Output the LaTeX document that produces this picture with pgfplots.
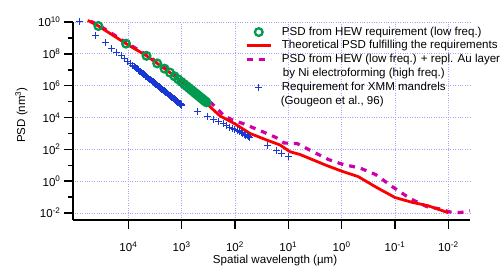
\documentclass[border=0pt]{standalone}
\usepackage{fontspec}
\setmainfont{Liberation Sans}
\usepackage{pgfplots}
\pgfplotsset{compat=1.18}
\definecolor{gridblue}{RGB}{165,165,255}
\definecolor{psdgreen}{RGB}{0,155,80}
\definecolor{psdred}{RGB}{250,0,0}
\definecolor{psdmag}{RGB}{205,0,170}
\definecolor{psdblue}{RGB}{25,55,210}
\begin{document}
\begin{tikzpicture}[font=\fontsize{11.6}{13.8}\selectfont]
\useasboundingbox (0,0) rectangle (503bp,267bp);
\begin{axis}[
  at={(73bp,47bp)}, anchor=south west,
  width=397bp, height=198bp, scale only axis,
  xmode=log, ymode=log, x dir=reverse,
  xmin=3.92e-3, xmax=1.09e5, ymin=3.66e-3, ymax=1e10,
  axis x line*=bottom, axis y line*=left,
  axis line style={line width=1.5bp, black},
  clip=false,
  tick align=outside,
  major tick length=9bp, minor tick length=4.5bp,
  every tick/.style={black, line width=1.5bp},
  xtick={1e-2,1e-1,1,1e1,1e2,1e3,1e4},
  xticklabels={10\textsuperscript{-2},10\textsuperscript{-1},10\textsuperscript{0},10\textsuperscript{1},10\textsuperscript{2},10\textsuperscript{3},10\textsuperscript{4}},
  xticklabel style={yshift=-9bp},
  ytick={1e-2,1,1e2,1e4,1e6,1e8,1e10},
  yticklabels={10\textsuperscript{-2},10\textsuperscript{0},10\textsuperscript{2},10\textsuperscript{4},10\textsuperscript{6},10\textsuperscript{8},10\textsuperscript{10}},
  minor ytick={1e-1,1e1,1e3,1e5,1e7,1e9},
  xminorticks=false,
  grid=major,
  major grid style={gridblue, dotted, line width=0.8bp},
  xlabel={Spatial wavelength (µm)},
  ylabel={PSD (nm\textsuperscript{3})},
  xlabel style={at={(axis description cs:0.509,-0.207)}, anchor=center},
  ylabel style={at={(axis description cs:-0.13,0.53)}, anchor=center},
  legend style={at={(axis description cs:0.4332,0.985)}, anchor=north west, draw=none, fill=none,
    inner sep=0pt, row sep=0pt, column sep=8bp,
    nodes={inner xsep=1.5bp, inner ysep=1.1bp, text height=8.8bp, text depth=2.8bp}},
  legend cell align=left,
  legend image code/.code={\draw[mark repeat=2,mark phase=2,#1] plot coordinates {(0bp,0bp) (12bp,0bp) (24bp,0bp)};},
]
% XMM requirement (blue plus)
\addplot[forget plot, only marks, mark=+, mark size=3.5bp, psdblue, line width=1bp] coordinates {
(82000,1e10) (41000,1.508e9) (27333,4.984e8) (20500,2.272e8) (16400,1.235e8) (13667,7.51e7)
(11714,4.93e7) (10250,3.42e7) (9111,2.48e7) (8200,1.862e7) (7810,1.630e7) (7455,1.435e7)
(7130,1.272e7) (6833,1.132e7) (6560,1.013e7) (6308,9.10e6) (6074,8.21e6) (5857,7.43e6)
(5655,6.75e6) (5467,6.16e6) (5290,5.63e6) (5125,5.16e6) (4970,4.75e6) (4824,4.37e6)
(4686,4.04e6) (4556,3.74e6) (4432,3.47e6) (4316,3.23e6) (4205,3.01e6) (4100,2.81e6)
(4000,2.624e6) (3905,2.457e6) (3814,2.304e6) (3727,2.164e6) (3644,2.035e6) (3565,1.917e6)
(3489,1.807e6) (3417,1.706e6) (3347,1.613e6) (3280,1.526e6) (3216,1.446e6) (3154,1.371e6)
(3094,1.302e6) (3037,1.237e6) (2982,1.177e6) (2929,1.12e6) (2877,1.067e6) (2828,1.018e6)
(2780,9.71e5) (2733,9.28e5) (2689,8.87e5) (2645,8.48e5) (2603,8.12e5) (2563,7.78e5)
(2523,7.46e5) (2485,7.15e5) (2448,6.86e5) (2412,6.59e5) (2377,6.34e5) (2343,6.09e5)
(2310,5.86e5) (2278,5.64e5) (2247,5.43e5) (2216,5.23e5) (2187,5.05e5) (2158,4.87e5)
(2130,4.70e5) (2103,4.53e5) (2076,4.38e5) (2050,4.23e5) (2000,3.955e5) (1952,3.70e5)
(1907,3.473e5) (1864,3.26e5) (1822,3.068e5) (1783,2.89e5) (1745,2.724e5) (1708,2.57e5)
(1673,2.431e5) (1640,2.30e5) (1608,2.179e5) (1577,2.07e5) (1547,1.962e5) (1519,1.865e5)
(1491,1.774e5) (1464,1.688e5) (1439,1.609e5) (1414,1.534e5) (1390,1.464e5) (1367,1.399e5)
(1344,1.337e5) (1323,1.279e5) (1302,1.224e5) (1281,1.172e5) (1262,1.124e5) (1242,1.078e5)
(1224,1.035e5) (1206,9.94e4) (1188,9.55e4) (1171,9.18e4) (1155,8.83e4) (1139,8.5e4)
(1123,8.19e4) (1108,7.89e4) (1093,7.60e4) (1079,7.34e4) (1065,7.08e4) (1051,6.83e4)
(1038,6.60e4) (1025,6.38e4) (1012,6.17e4) (1000,5.96e4)
(500,2.43e4) (333.3,1.245e4) (250,7.74e3) (200,5.36e3) (166.7,3.97e3) (142.9,3.08e3)
(125,2.47e3) (111.1,2.03e3) (100,1.708e3) (90.9,1.459e3) (83.33,1.264e3) (76.92,1.107e3)
(71.43,980) (66.67,875) (62.5,787) (58.82,712) (55.56,648) (52.63,592)
(24.8,186) (16.5,91) (13.3,56) (10,38)
};
% Magenta dashed
\addplot[forget plot, psdmag, line width=3.2bp, dash pattern=on 6bp off 6bp] coordinates {
(50700,1.12e10) (36500,6.6e9) (11040,5.13e8) (4721,9.55e7) (2931,3.09e7) (1652,7.76e6)
(272.9,7.76e4) (158.5,1.26e4) (112.2,7.08e3) (70.6,4.17e3) (33.9,1.51e3) (16.98,556)
(12.02,251) (8.71,240) (6.87,234) (3.44,70.8) (1.762,22.9) (0.931,11.2) (0.454,6.76)
(0.231,2.63) (0.1064,0.402) (0.0522,0.0818) (0.02564,0.0257) (0.01429,0.01795)
(0.00933,0.01161) (0.00603,0.01072) (0.00392,0.0135)
};
% Red theoretical
\addplot[forget plot, psdred, line width=2.8bp, line join=round] coordinates {
(57544,1.26e10) (36500,5.62e9) (11040,4.37e8) (4721,8.13e7) (2931,2.63e7) (2138,1.23e7)
(1652,6.61e6) (338.8,8.51e4) (295.1,4.79e4) (191,1.26e4) (99.8,3.98e3) (52.2,1.0e3)
(25.4,387) (14.29,188) (9.29,71.3) (6.03,47.5) (1.905,9.68) (0.931,3.95) (0.493,1.97)
(0.22,0.402) (0.0998,0.0946) (0.048,0.0473) (0.02404,0.0289) (0.01,0.0105)
};
% Green circles
\addplot[forget plot, only marks, mark=o, mark size=3.85bp, psdgreen, line width=2.3bp] coordinates {
(36500,5.62e9) (11040,4.37e8) (4560,7.52e7) (2874,2.51e7) (2096,1.175e7) (1653,6.61e6)
(1362,3.90e6) (1159,2.51e6) (1008,1.718e6) (892,1.233e6) (800,9.16e5) (725.7,7.03e5)
(663.6,5.5e5) (611.2,4.40e5) (566.6,3.58e5) (528.3,2.96e5) (494.6,2.47e5) (464.9,2.09e5)
(438.6,1.78e5) (415.3,1.535e5) (394.2,1.33e5) (375.1,1.164e5) (357.8,1.022e5) (342.1,9.06e4)
};
\addlegendimage{only marks, mark=o, mark size=3.85bp, psdgreen, line width=2.3bp}
\addlegendentry{PSD from HEW requirement (low freq.)}
\addlegendimage{psdred, line width=2.8bp}
\addlegendentry{Theoretical PSD fulfilling the requirements}
\addlegendimage{psdmag, line width=3.2bp, dash pattern=on 6bp off 6bp}
\addlegendentry{PSD from HEW (low freq.) + repl. Au layer}
\addlegendimage{empty legend}
\addlegendentry{\hspace{1bp}by Ni electroforming (high freq.)}
\addlegendimage{only marks, mark=+, mark size=3.5bp, psdblue, line width=1bp}
\addlegendentry{Requirement for XMM mandrels}
\addlegendimage{empty legend}
\addlegendentry{\hspace{-1bp}(Gougeon et al., 96)}
\end{axis}
\end{tikzpicture}
\end{document}
